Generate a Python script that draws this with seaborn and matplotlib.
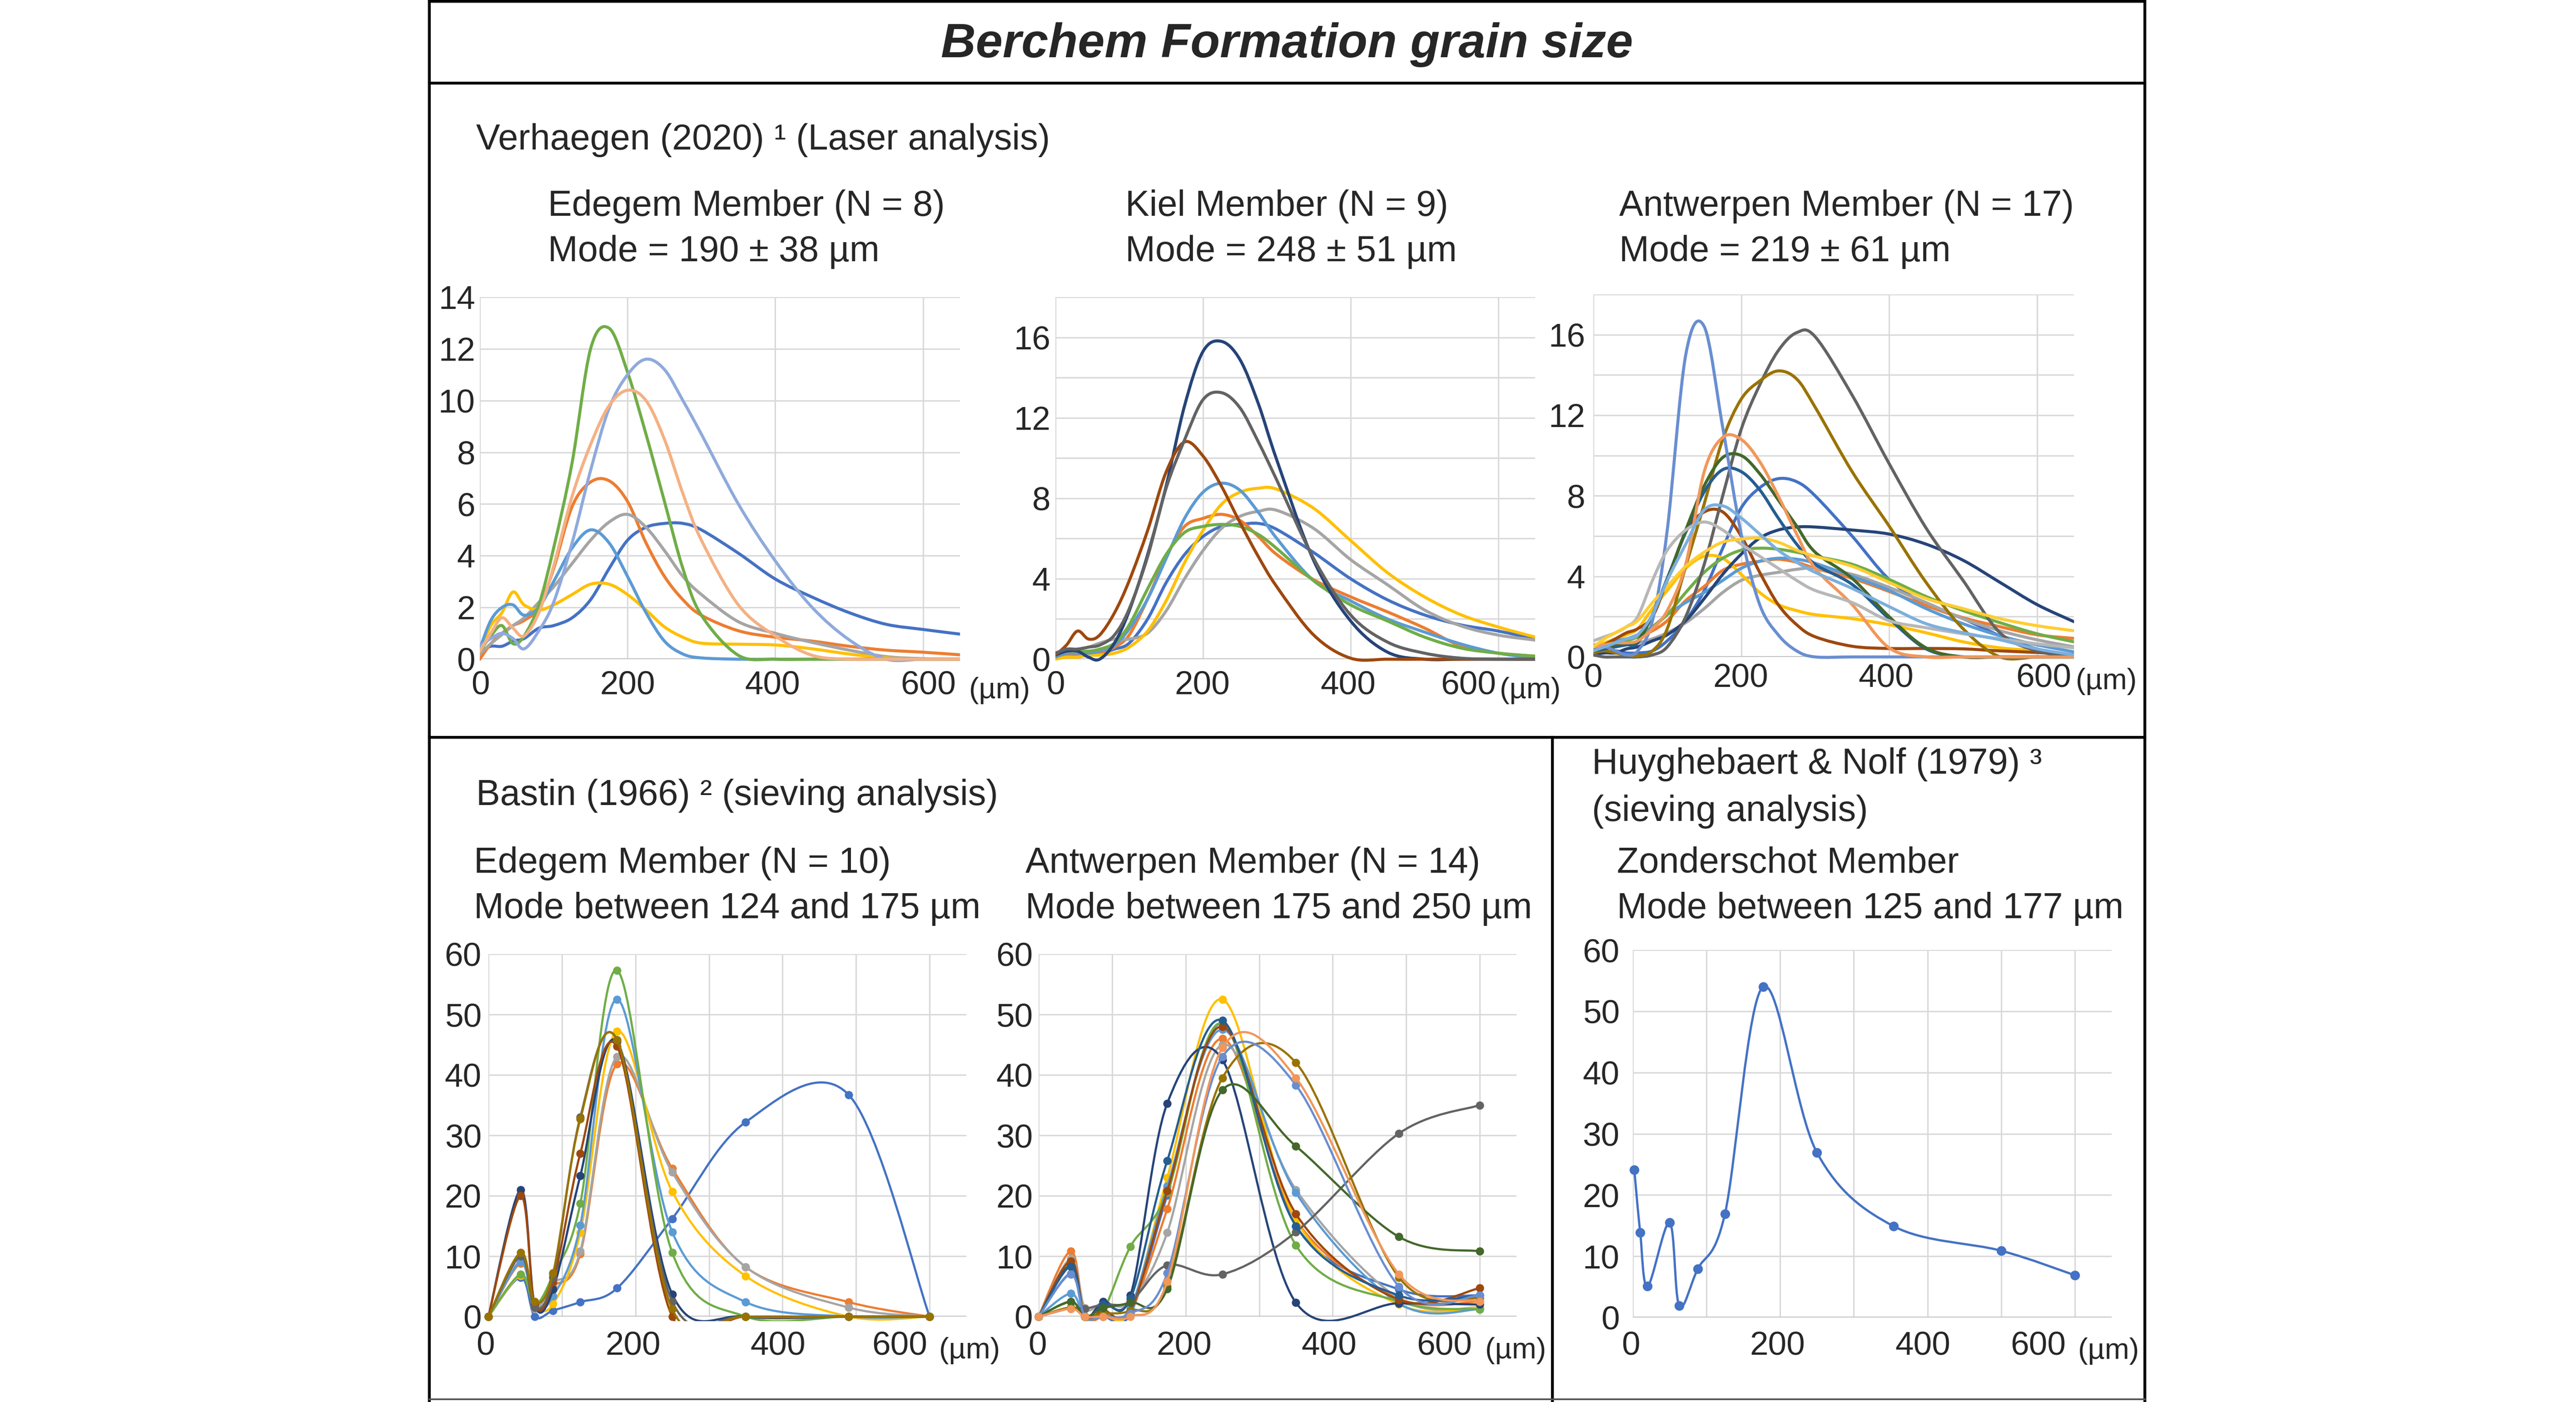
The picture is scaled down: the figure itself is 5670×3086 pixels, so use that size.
import numpy as np
import pandas as pd
import seaborn as sns
import matplotlib.pyplot as plt
from matplotlib.path import Path
from matplotlib.patches import PathPatch, Rectangle
from matplotlib.lines import Line2D
from matplotlib.ticker import MultipleLocator

# ----------------------------------------------------------
# Data
# ----------------------------------------------------------

# laser analysis, grain size in µm, frequency in %
laser_x = [0, 15, 30, 45, 60, 80, 100, 125, 150, 175, 200, 225, 250, 275, 300, 350, 400, 450, 500, 550, 600, 650]

# Edegem Member (N = 8)
l1_blue = [0.3, 0.5, 0.5, 0.7, 0.8, 1.2, 1.3, 1.6, 2.3, 3.5, 4.6, 5.1, 5.25, 5.25, 5.0, 4.1, 3.1, 2.4, 1.8, 1.35, 1.15, 0.97]
l1_orange = [0.0, 0.6, 1.0, 1.3, 1.5, 2.0, 3.5, 5.9, 6.85, 6.9, 6.1, 4.5, 3.2, 2.3, 1.7, 1.1, 0.85, 0.7, 0.5, 0.35, 0.27, 0.17]
l1_gray = [0.2, 0.6, 0.95, 1.3, 1.6, 2.2, 2.8, 3.7, 4.6, 5.3, 5.6, 5.1, 4.2, 3.2, 2.5, 1.45, 1.0, 0.65, 0.35, 0.1, 0.02, 0.0]
l1_yellow = [0.3, 1.3, 1.8, 2.6, 2.1, 1.9, 2.1, 2.5, 2.9, 2.9, 2.5, 1.9, 1.25, 0.85, 0.62, 0.58, 0.55, 0.4, 0.2, 0.05, 0.0, 0.0]
l1_lblue = [0.4, 1.5, 2.0, 2.1, 1.7, 2.0, 3.0, 4.3, 5.0, 4.5, 3.2, 1.8, 0.7, 0.2, 0.05, 0.0, 0.0, 0.0, 0.0, 0.0, 0.0, 0.0]
l1_green = [0.3, 0.9, 1.3, 0.6, 0.9, 2.1, 4.3, 7.6, 12.0, 12.8, 11.1, 8.7, 6.1, 3.5, 1.7, 0.15, 0.0, 0.0, 0.0, 0.0, 0.0, 0.0]
l1_lpurple = [0.5, 0.8, 1.0, 0.8, 0.4, 1.1, 2.2, 4.5, 7.3, 9.7, 11.0, 11.6, 11.2, 10.0, 8.7, 6.0, 3.8, 2.0, 0.75, 0.0, 0.0, 0.0]
l1_salmon = [0.3, 1.0, 1.6, 1.2, 0.9, 1.8, 3.6, 6.3, 8.3, 9.8, 10.4, 10.0, 8.5, 6.4, 4.6, 2.1, 0.9, 0.15, 0.0, 0.0, 0.0, 0.0]

# Kiel Member (N = 9)
l2_blue = [0.2, 0.3, 0.3, 0.3, 0.3, 0.5, 0.8, 2.0, 3.8, 5.2, 6.1, 6.6, 6.7, 6.75, 6.45, 5.3, 4.0, 2.95, 2.2, 1.7, 1.4, 1.0]
l2_orange = [0.1, 0.2, 0.2, 0.3, 0.3, 0.6, 1.2, 3.0, 5.1, 6.6, 7.0, 7.2, 6.9, 6.1, 5.2, 3.95, 3.1, 2.35, 1.55, 0.65, 0.3, 0.15]
l2_gray = [0.3, 0.4, 0.5, 0.6, 0.8, 1.0, 1.0, 1.3, 2.4, 4.0, 5.4, 6.5, 7.1, 7.35, 7.4, 6.5, 4.95, 3.7, 2.45, 1.65, 1.2, 0.95]
l2_yellow = [0.0, 0.1, 0.1, 0.2, 0.2, 0.3, 0.6, 1.4, 2.9, 4.8, 6.4, 7.7, 8.3, 8.5, 8.45, 7.5, 5.9, 4.3, 3.1, 2.2, 1.6, 1.1]
l2_lblue = [0.1, 0.3, 0.3, 0.3, 0.4, 0.7, 1.5, 3.0, 5.0, 7.0, 8.3, 8.75, 8.4, 7.3, 6.0, 3.9, 2.9, 2.0, 1.35, 0.75, 0.3, 0.05]
l2_green = [0.3, 0.4, 0.4, 0.4, 0.5, 0.8, 1.7, 3.5, 5.2, 6.3, 6.6, 6.7, 6.6, 6.2, 5.5, 3.9, 2.7, 1.9, 1.1, 0.55, 0.3, 0.15]
l2_dblue = [0.2, 0.4, 0.4, 0.1, 0.0, 0.8, 2.4, 5.2, 8.6, 12.6, 15.3, 15.8, 14.9, 12.7, 9.9, 4.9, 1.9, 0.35, 0.0, 0.0, 0.0, 0.0]
l2_brown = [0.2, 0.7, 1.4, 1.0, 1.2, 2.3, 3.9, 6.4, 9.3, 10.8, 10.1, 8.6, 6.8, 5.1, 3.6, 1.2, 0.05, 0.0, 0.0, 0.0, 0.0, 0.0]
l2_dgray = [0.3, 0.5, 0.5, 0.6, 0.7, 1.2, 2.5, 5.1, 8.5, 10.9, 12.9, 13.25, 12.5, 10.8, 8.9, 5.0, 2.2, 0.85, 0.3, 0.05, 0.0, 0.0]

# Antwerpen Member (N = 17)
l3_blue = [0.2, 0.2, 0.3, 0.2, 0.2, 0.3, 0.8, 1.8, 3.3, 5.4, 7.4, 8.4, 8.85, 8.7, 8.0, 6.0, 3.85, 2.6, 1.9, 1.05, 0.4, 0.0]
l3_orange = [0.3, 0.5, 0.6, 0.8, 1.0, 1.3, 1.8, 2.8, 3.5, 4.3, 4.6, 4.75, 4.85, 4.7, 4.4, 3.9, 3.25, 2.55, 1.95, 1.5, 1.1, 0.92]
l3_gray = [0.6, 0.6, 0.6, 0.7, 0.7, 0.9, 1.2, 1.7, 2.4, 3.2, 3.8, 4.05, 4.2, 4.35, 4.4, 4.1, 3.45, 2.7, 1.9, 1.3, 0.85, 0.5]
l3_yellow = [0.5, 0.7, 0.9, 1.1, 1.4, 2.4, 3.3, 4.4, 5.0, 4.9, 4.1, 3.2, 2.6, 2.3, 2.1, 1.9, 1.6, 1.2, 0.75, 0.45, 0.3, 0.08]
l3_lblue = [0.4, 0.6, 0.8, 0.9, 1.1, 1.5, 2.1, 2.7, 3.2, 3.8, 4.4, 4.75, 4.9, 4.85, 4.65, 4.0, 3.3, 2.4, 1.65, 1.05, 0.6, 0.25]
l3_green = [0.3, 0.5, 0.6, 0.8, 1.0, 1.5, 2.1, 3.2, 4.2, 4.9, 5.3, 5.4, 5.35, 5.2, 5.0, 4.6, 3.85, 3.0, 2.3, 1.7, 1.15, 0.75]
l3_dblue = [0.1, 0.2, 0.2, 0.4, 0.5, 0.8, 1.1, 1.8, 2.9, 4.1, 5.1, 5.9, 6.3, 6.45, 6.45, 6.3, 6.1, 5.6, 4.8, 3.7, 2.6, 1.75]
l3_brown = [0.3, 0.6, 0.9, 1.2, 1.4, 2.0, 3.8, 6.2, 7.2, 7.2, 6.0, 4.2, 2.6, 1.6, 1.0, 0.53, 0.42, 0.42, 0.4, 0.3, 0.22, 0.11]
l3_dgray = [0.1, 0.0, 0.0, 0.0, 0.0, 0.1, 0.5, 2.0, 4.6, 8.0, 11.3, 13.5, 15.2, 16.1, 15.9, 13.0, 9.6, 6.4, 3.8, 1.2, 0.3, 0.0]
l3_olive = [0.2, 0.3, 0.2, 0.1, 0.05, 0.3, 1.4, 4.5, 7.6, 10.8, 12.8, 13.7, 14.2, 13.8, 12.4, 9.2, 6.5, 3.7, 1.4, 0.0, 0.0, 0.0]
l3_steel = [0.3, 0.4, 0.5, 0.6, 0.7, 2.1, 3.9, 6.2, 8.2, 9.3, 9.2, 8.3, 6.9, 5.6, 4.6, 3.6, 1.9, 0.4, 0.0, 0.0, 0.0, 0.0]
l3_dgreen = [0.3, 0.5, 0.6, 0.7, 0.8, 2.1, 3.8, 6.3, 8.5, 9.9, 10.0, 9.1, 7.8, 6.5, 5.2, 3.9, 2.0, 0.45, 0.0, 0.0, 0.0, 0.0]
l3_peri = [0.3, 0.5, 0.3, 0.1, 0.3, 1.8, 6.3, 15.0, 16.4, 11.4, 6.1, 2.6, 1.1, 0.3, 0.0, 0.0, 0.0, 0.0, 0.0, 0.0, 0.0, 0.0]
l3_lorange = [0.5, 0.6, 0.7, 0.7, 0.8, 1.4, 2.3, 4.6, 9.2, 10.9, 10.8, 9.7, 8.0, 6.1, 4.4, 2.6, 0.45, 0.0, 0.0, 0.0, 0.0, 0.0]
l3_lgray = [0.8, 1.0, 1.2, 1.5, 2.0, 3.8, 5.3, 6.3, 6.7, 6.3, 5.6, 5.0, 4.4, 3.8, 3.3, 2.7, 1.8, 1.45, 1.15, 0.9, 0.65, 0.45]
l3_lyellow = [0.5, 0.9, 1.2, 1.5, 1.8, 2.7, 3.5, 4.5, 5.2, 5.7, 5.85, 5.9, 5.7, 5.3, 5.0, 4.5, 3.7, 2.9, 2.4, 1.9, 1.55, 1.3]
l3_lsky = [0.3, 0.5, 0.7, 0.9, 1.1, 2.1, 3.8, 5.6, 7.3, 7.5, 6.9, 6.1, 5.3, 4.7, 4.2, 3.4, 2.5, 1.65, 1.2, 0.85, 0.4, 0.1]

# sieving analysis (Bastin 1966), sieve sizes in µm, weight %
sieve_x = [0, 44, 63, 88, 125, 175, 250, 350, 490, 600]

# Edegem Member (N = 10)
s4_blue = [0, 6.5, 0, 1.0, 2.4, 4.7, 16.2, 32.2, 36.7, 0]
s4_orange = [0, 8.8, 2.0, 5.0, 10.4, 41.8, 24.5, 8.2, 2.4, 0]
s4_gray = [0, 9.2, 1.3, 5.5, 10.8, 43.0, 23.9, 8.2, 1.5, 0]
s4_yellow = [0, 6.8, 1.8, 2.1, 13.9, 47.2, 20.7, 6.7, 0, 0]
s4_lblue = [0, 9.0, 1.5, 3.4, 15.1, 52.5, 14.0, 2.4, 0, 0]
s4_green = [0, 7.0, 2.0, 6.9, 18.7, 57.3, 10.6, 0, 0, 0]
s4_dblue = [0, 21.0, 2.0, 4.5, 23.3, 45.5, 3.7, 0, 0, 0]
s4_brown = [0, 20.0, 2.0, 5.7, 27.0, 44.7, 0, 0, 0, 0]
s4_dgray = [0, 10.0, 1.5, 6.5, 33.0, 45.8, 2.5, 0, 0, 0]
s4_olive = [0, 10.6, 2.5, 7.2, 32.7, 45.8, 1.25, 0, 0, 0]

# Antwerpen Member (N = 14)
s5_blue = [0, 7.1, 0, 0, 0.5, 20.1, 48.5, 15.0, 4.5, 3.5]
s5_orange = [0, 10.8, 0, 0, 1.0, 17.8, 46.0, 16.0, 3.0, 2.5]
s5_gray = [0, 9.6, 1.4, 2.3, 2.5, 13.9, 45.0, 21.0, 3.0, 1.5]
s5_yellow = [0, 9.0, 0, 0.5, 1.1, 23.0, 52.5, 16.0, 2.0, 1.5]
s5_lblue = [0, 3.8, 0, 0.5, 1.5, 21.6, 47.5, 20.5, 2.2, 1.2]
s5_green = [0, 2.4, 0, 1.0, 11.6, 20.5, 48.5, 11.8, 2.5, 1.2]
s5_dblue = [0, 8.5, 0, 2.5, 3.5, 35.3, 42.5, 2.3, 2.2, 2.0]
s5_brown = [0, 9.2, 0, 1.0, 1.0, 20.8, 48.0, 17.0, 2.8, 4.7]
s5_dgray = [0, 1.4, 1.3, 2.0, 2.5, 8.5, 7.0, 14.0, 30.3, 35.0]
s5_olive = [0, 1.5, 0, 0.5, 1.0, 5.0, 39.5, 42.0, 6.5, 3.0]
s5_steel = [0, 8.3, 0, 2.0, 3.0, 25.8, 49.0, 15.0, 3.5, 3.5]
s5_dgreen = [0, 2.5, 0, 1.4, 2.3, 4.6, 37.5, 28.2, 13.2, 10.8]
s5_peri = [0, 7.0, 0, 0, 0.5, 7.2, 43.0, 38.3, 5.0, 3.5]
s5_lorange = [0, 1.3, 0, 0, 0, 5.8, 44.5, 39.5, 7.0, 2.5]

# Zonderschot Member (Huyghebaert & Nolf 1979)
zonder_x = [2, 10, 20, 50, 63, 88, 125, 177, 250, 354, 500, 600]
zonder_y = [24.1, 13.9, 5.1, 15.5, 1.9, 7.9, 16.9, 54.0, 26.9, 14.9, 10.9, 6.9]

x_tick_values = [0, 200, 400, 600]

# ----------------------------------------------------------
# Style
# ----------------------------------------------------------

BLUE, ORANGE, GRAY, YELLOW = '#4472C4', '#ED7D31', '#A5A5A5', '#FFC000'
LBLUE, GREEN, DBLUE, BROWN = '#5B9BD5', '#70AD47', '#264478', '#9E480E'
DGRAY, OLIVE, STEEL, DGREEN = '#636363', '#997300', '#255E91', '#43682B'
PERI, LORANGE, LGRAY, LYELLOW, LSKY = '#698ED0', '#F1975A', '#B7B7B7', '#FFCD33', '#7CAFDD'

W, H, DPI = 5670, 3086, 300

sns.set_theme(style="white")
plt.rcParams['font.family'] = ['Liberation Sans', 'DejaVu Sans']

fig = plt.figure(figsize=(W / DPI, H / DPI), dpi=DPI)
fig.patch.set_facecolor('white')


def fx(x):
    return x / W


def fy(y):
    return 1 - y / H


def smooth_path(xs, ys):
    """Excel-like smoothed line: cubic Bezier segments through every data point."""
    pts = np.column_stack([xs, ys]).astype(float)
    n = len(pts)
    verts = [pts[0]]
    codes = [Path.MOVETO]
    for i in range(n - 1):
        p0 = pts[max(i - 1, 0)]
        p1 = pts[i]
        p2 = pts[i + 1]
        p3 = pts[min(i + 2, n - 1)]
        verts += [p1 + (p2 - p0) / 6, p2 - (p3 - p1) / 6, p2]
        codes += [Path.CURVE4] * 3
    return Path(verts, codes)


def draw_series(ax, xs, ys, color, lw, z, msize=None):
    patch = PathPatch(smooth_path(xs, ys), facecolor='none', edgecolor=color, lw=lw,
                      capstyle='round', joinstyle='round', zorder=z)
    ax.add_patch(patch)
    patch.set_clip_path(Rectangle((0, -0.012), 1, 1.024, transform=ax.transAxes))
    if msize:
        sns.scatterplot(x=xs, y=ys, ax=ax, color=color, s=msize, linewidth=0,
                        zorder=z + 0.005, clip_on=False, legend=False)


def make_axes(box, ymax, ymajor, yminor, xminor, ypad, lab_dx, lab_dy, um_dx, um_dy):
    l, r, t, b = box
    ax = fig.add_axes([fx(l), fy(b), (r - l) / W, (b - t) / H])
    ax.set_facecolor('white')
    ax.set_xlim(0, 650)
    ax.set_ylim(0, ymax)
    ax.xaxis.set_major_locator(MultipleLocator(200))
    ax.xaxis.set_minor_locator(MultipleLocator(xminor))
    ax.yaxis.set_major_locator(MultipleLocator(ymajor))
    ax.yaxis.set_minor_locator(MultipleLocator(yminor))
    ax.grid(True, which='both', color='#D9D9D9', lw=0.75)
    ax.set_axisbelow(True)
    ax.axhline(0, color='#BFBFBF', lw=0.9, zorder=1.5)
    ax.tick_params(axis='x', which='both', length=0, labelbottom=False)
    ax.tick_params(axis='y', which='both', length=0, pad=ypad, labelsize=17.5)
    for s in ax.spines.values():
        s.set_visible(False)
    # x labels are a text row under the plot in the original, slightly shifted
    for v, dx in zip(x_tick_values, lab_dx):
        ax.annotate(str(v), xy=(v, 0), xycoords=('data', 'axes fraction'),
                    xytext=(dx * 0.24, -lab_dy * 0.24), textcoords='offset points',
                    ha='center', va='center', fontsize=17.5)
    ax.annotate('(µm)', xy=(600, 0), xycoords=('data', 'axes fraction'),
                xytext=(um_dx * 0.24, -um_dy * 0.24), textcoords='offset points',
                ha='center', va='center', fontsize=15.5)
    return ax


# ----------------------------------------------------------
# Top row: laser analysis
# ----------------------------------------------------------

ax1 = make_axes((1056, 2113, 654, 1451), 14, 2, 2, 200, 2.4, [1, 0, -6, 11], 58, 168, 69)
for i, (ys, c) in enumerate([(l1_blue, BLUE), (l1_orange, ORANGE), (l1_gray, GRAY), (l1_yellow, YELLOW),
                             (l1_lblue, LBLUE), (l1_green, GREEN), (l1_lpurple, '#8FAADC'),
                             (l1_salmon, '#F4B183')]):
    draw_series(ax1, laser_x, ys, c, 1.6, 2 + i * 0.01)

ax2 = make_axes((2323, 3379, 654, 1451), 18, 4, 2, 200, 2.6, [0, -2, -6, -66], 58, 70, 69)
for i, (ys, c) in enumerate([(l2_blue, BLUE), (l2_orange, ORANGE), (l2_gray, GRAY), (l2_yellow, YELLOW),
                             (l2_lblue, LBLUE), (l2_green, GREEN), (l2_dblue, DBLUE),
                             (l2_brown, BROWN), (l2_dgray, DGRAY)]):
    draw_series(ax2, laser_x, ys, c, 1.6, 2 + i * 0.01)

ax3 = make_axes((3507, 4565, 648, 1446), 18, 4, 2, 200, 4.3, [-1, -1, -7, 15], 47, 152, 54)
for i, (ys, c) in enumerate([(l3_blue, BLUE), (l3_orange, ORANGE), (l3_gray, GRAY), (l3_yellow, YELLOW),
                             (l3_lblue, LBLUE), (l3_green, GREEN), (l3_dblue, DBLUE),
                             (l3_brown, BROWN), (l3_dgray, DGRAY), (l3_olive, OLIVE),
                             (l3_steel, STEEL), (l3_dgreen, DGREEN), (l3_peri, PERI),
                             (l3_lorange, LORANGE), (l3_lgray, LGRAY), (l3_lyellow, LYELLOW),
                             (l3_lsky, LSKY)]):
    draw_series(ax3, laser_x, ys, c, 1.6, 2 + i * 0.01)

# ----------------------------------------------------------
# Bottom row: sieving analysis
# ----------------------------------------------------------

ax4 = make_axes((1075, 2127, 2100, 2898), 60, 10, 10, 100, 3.6, [-7, -5, -10, -66], 65, 88, 75)
for i, (ys, c) in enumerate([(s4_blue, BLUE), (s4_orange, ORANGE), (s4_gray, GRAY), (s4_yellow, YELLOW),
                             (s4_lblue, LBLUE), (s4_green, GREEN), (s4_dblue, DBLUE),
                             (s4_brown, BROWN), (s4_dgray, DGRAY), (s4_olive, OLIVE)]):
    draw_series(ax4, sieve_x, ys, c, 1.15, 2 + i * 0.01, msize=19)

ax5 = make_axes((2286, 3338, 2100, 2898), 60, 10, 10, 100, 3.1, [-3, -3, -8, -78], 65, 79, 75)
for i, (ys, c) in enumerate([(s5_blue, BLUE), (s5_orange, ORANGE), (s5_gray, GRAY), (s5_yellow, YELLOW),
                             (s5_lblue, LBLUE), (s5_green, GREEN), (s5_dblue, DBLUE),
                             (s5_brown, BROWN), (s5_dgray, DGRAY), (s5_olive, OLIVE),
                             (s5_steel, STEEL), (s5_dgreen, DGREEN), (s5_peri, PERI),
                             (s5_lorange, LORANGE)]):
    draw_series(ax5, sieve_x, ys, c, 1.15, 2 + i * 0.01, msize=19)

ax6 = make_axes((3594, 4648, 2091, 2900), 60, 10, 10, 100, 7.0, [-5, -6, -10, -81], 63, 74, 74)
draw_series(ax6, zonder_x, zonder_y, BLUE, 1.2, 2, msize=26)

# ----------------------------------------------------------
# Texts
# ----------------------------------------------------------

fig.text(fx(2833), fy(99), 'Berchem Formation grain size', ha='center', va='center',
         fontsize=25.5, fontweight='bold', fontstyle='italic')

fig.text(fx(1048), fy(308), 'Verhaegen (2020) ¹ (Laser analysis)', ha='left', va='center', fontsize=19)
for x, name, mode in [(1206, 'Edegem Member (N = 8)', 'Mode = 190 ± 38 µm'),
                      (2477, 'Kiel Member (N = 9)', 'Mode = 248 ± 51 µm'),
                      (3564, 'Antwerpen Member (N = 17)', 'Mode = 219 ± 61 µm')]:
    fig.text(fx(x), fy(455), name, ha='left', va='center', fontsize=19)
    fig.text(fx(x), fy(554), mode, ha='left', va='center', fontsize=19)

fig.text(fx(1048), fy(1752), 'Bastin (1966) ² (sieving analysis)', ha='left', va='center', fontsize=19)
fig.text(fx(3504), fy(1682), 'Huyghebaert & Nolf (1979) ³', ha='left', va='center', fontsize=19)
fig.text(fx(3504), fy(1786), '(sieving analysis)', ha='left', va='center', fontsize=19)
for x, name, mode in [(1043, 'Edegem Member (N = 10)', 'Mode between 124 and 175 µm'),
                      (2257, 'Antwerpen Member (N = 14)', 'Mode between 175 and 250 µm'),
                      (3559, 'Zonderschot Member', 'Mode between 125 and 177 µm')]:
    fig.text(fx(x), fy(1900), name, ha='left', va='center', fontsize=19)
    fig.text(fx(x), fy(2000), mode, ha='left', va='center', fontsize=19)

# ----------------------------------------------------------
# Frame
# ----------------------------------------------------------

def frame_line(x0, y0, x1, y1, color='black', lw=1.5):
    fig.add_artist(Line2D([fx(x0), fx(x1)], [fy(y0), fy(y1)], transform=fig.transFigure,
                          color=color, lw=lw, solid_capstyle='projecting'))


frame_line(945, 3, 4721, 3)
frame_line(945, 183, 4721, 183)
frame_line(945, 1623, 4721, 1623)
frame_line(945, 0, 945, H)
frame_line(4721, 0, 4721, H)
frame_line(3417, 1623, 3417, H)
frame_line(945, 3080, 4721, 3080, color='#555555', lw=0.9)

fig.savefig('out.png', dpi=DPI, facecolor='white')
